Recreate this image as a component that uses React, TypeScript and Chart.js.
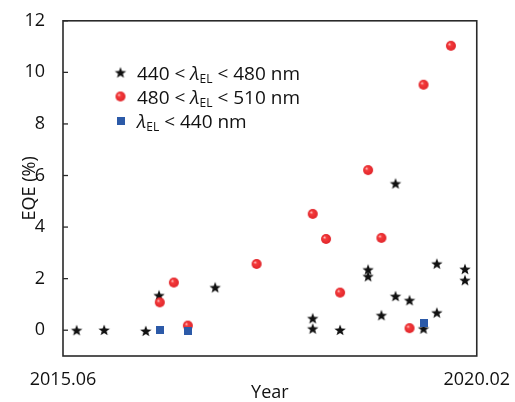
import { useEffect, useRef } from 'react';
import { Chart, registerables } from 'chart.js';
Chart.register(...registerables);

// ---- data (x: decimal year, y: EQE %) ----
const starYears = [2015.571, 2015.881, 2016.35, 2016.5, 2017.133, 2018.233, 2018.233, 2018.542, 2018.858, 2018.858, 2019.008, 2019.167, 2019.167, 2019.325, 2019.483, 2019.633, 2019.633, 2019.95, 2019.95];
const starEQE = [0, 0.01, -0.03, 1.35, 1.66, 0.46, 0.06, 0.01, 2.35, 2.09, 0.58, 5.69, 1.32, 1.16, 0.06, 2.58, 0.68, 2.37, 1.94];

const redYears = [2016.508, 2016.667, 2016.825, 2017.6, 2018.233, 2018.383, 2018.542, 2018.858, 2019.008, 2019.325, 2019.483, 2019.792];
const redEQE = [1.08, 1.85, 0.18, 2.57, 4.51, 3.54, 1.46, 6.21, 3.58, 0.08, 9.52, 11.03];

const blueYears = [2016.508, 2016.825, 2019.483];
const blueEQE = [0, -0.02, 0.27];

const seriesLabels = ['440 < λEL < 480 nm', '480 < λEL < 510 nm', 'λEL < 440 nm'];
const xTickValues = [2015.4167, 2020.0833];
const xTickLabels = ['2015.06', '2020.02'];
const yTickValues = [0, 2, 4, 6, 8, 10, 12];

const FONT = '"Open Sans", "Noto Sans", sans-serif';

function makeStar(r: number) {
  const s = Math.ceil(2 * r + 2);
  const c = document.createElement('canvas');
  c.width = s; c.height = s;
  const ctx = c.getContext('2d')!;
  const cx = s / 2, cy = s / 2 + 0.5;
  ctx.beginPath();
  for (let i = 0; i < 10; i++) {
    const rad = i % 2 === 0 ? r : r * 0.42;
    const a = -Math.PI / 2 + (i * Math.PI) / 5;
    const x = cx + rad * Math.cos(a), y = cy + rad * Math.sin(a);
    if (i === 0) ctx.moveTo(x, y); else ctx.lineTo(x, y);
  }
  ctx.closePath();
  ctx.fillStyle = '#111';
  ctx.fill();
  return c;
}

function makeBall(r: number) {
  const s = Math.ceil(2 * r + 2);
  const c = document.createElement('canvas');
  c.width = s; c.height = s;
  const ctx = c.getContext('2d')!;
  const cx = s / 2, cy = s / 2;
  const g = ctx.createRadialGradient(cx - r * 0.35, cy - r * 0.35, r * 0.05, cx, cy, r);
  g.addColorStop(0, '#ffc4c4');
  g.addColorStop(0.3, '#f53c3c');
  g.addColorStop(1, '#e0242a');
  ctx.beginPath();
  ctx.arc(cx, cy, r, 0, Math.PI * 2);
  ctx.fillStyle = g;
  ctx.fill();
  return c;
}

function makeSquare(w: number) {
  const c = document.createElement('canvas');
  c.width = w; c.height = w;
  const ctx = c.getContext('2d')!;
  ctx.fillStyle = '#2c5aa8';
  ctx.fillRect(0, 0, w, w);
  return c;
}

export default function App() {
  const ref = useRef<HTMLCanvasElement>(null);
  useEffect(() => {
    document.body.style.margin = '0';
    const star = makeStar(6);
    const ball = makeBall(5);
    const square = makeSquare(8);
    const markers = [star, ball, square];

    const framePlugin = {
      id: 'frame',
      afterDraw(chart: any) {
        const { ctx, chartArea } = chart;
        const { left, right, top, bottom } = chartArea;
        const yScale = chart.scales.y;
        ctx.save();
        ctx.strokeStyle = '#2a2a2a';
        ctx.lineWidth = 1.6;
        ctx.strokeRect(left, top, right - left, bottom - top);
        ctx.lineWidth = 1.3;
        yTickValues.forEach((v) => {
          const y = yScale.getPixelForValue(v);
          ctx.beginPath();
          ctx.moveTo(left, y);
          ctx.lineTo(left + 5, y);
          ctx.stroke();
        });
        // legend
        const rowsY = [72.5, 96.5, 120.5];
        const mx = 120.5;
        const tx = 137;
        chart.data.datasets.forEach((ds: any, i: number) => {
          const img = markers[i];
          const y = rowsY[i];
          ctx.drawImage(img, mx - img.width / 2, y - img.height / 2);
          const label: string = ds.label;
          const idx = label.indexOf('λEL');
          const pre = label.slice(0, idx);
          const post = label.slice(idx + 3);
          let x = tx;
          ctx.fillStyle = '#111';
          ctx.textBaseline = 'alphabetic';
          const base = y + 7;
          ctx.font = `19px ${FONT}`;
          ctx.fillText(pre, x, base);
          x += ctx.measureText(pre).width;
          ctx.font = `italic 19px ${FONT}`;
          ctx.fillText('λ', x, base);
          x += ctx.measureText('λ').width;
          ctx.font = `12px ${FONT}`;
          ctx.fillText('EL', x, base + 3.5);
          x += ctx.measureText('EL').width;
          ctx.font = `19px ${FONT}`;
          ctx.fillText(post, x, base);
        });
        ctx.restore();
      },
    };

    const chart = new Chart(ref.current!, {
      type: 'scatter',
      data: {
        datasets: [
          {
            label: seriesLabels[0],
            data: starYears.map((x, i) => ({ x, y: starEQE[i] })),
            pointStyle: star as any,
            order: 3,
          },
          {
            label: seriesLabels[1],
            data: redYears.map((x, i) => ({ x, y: redEQE[i] })),
            pointStyle: ball as any,
            order: 2,
          },
          {
            label: seriesLabels[2],
            data: blueYears.map((x, i) => ({ x, y: blueEQE[i] })),
            pointStyle: square as any,
            order: 1,
          },
        ],
      },
      options: {
        animation: false,
        responsive: false,
        maintainAspectRatio: false,
        layout: { padding: { top: 19, right: 37, left: 0, bottom: 0 } },
        plugins: { legend: { display: false }, tooltip: { enabled: false } },
        scales: {
          x: {
            type: 'linear',
            min: xTickValues[0],
            max: xTickValues[1],
            grid: { display: false },
            border: { display: false },
            afterBuildTicks: (scale: any) => {
              scale.ticks = xTickValues.map((v) => ({ value: v }));
            },
            afterFit: (scale: any) => {
              scale.height = 46;
            },
            ticks: {
              autoSkip: false,
              maxRotation: 0,
              padding: 5,
              color: '#111',
              font: { family: FONT, size: 18, lineHeight: 1.2 },
              callback: (_v: any, i: number) => xTickLabels[i],
            },
            title: {
              display: true,
              text: 'Year',
              color: '#111',
              padding: 0,
              font: { family: FONT, size: 18, lineHeight: 1 },
            },
          },
          y: {
            min: -1,
            max: 12,
            grid: { display: false },
            border: { display: false },
            afterBuildTicks: (scale: any) => {
              scale.ticks = yTickValues.map((v) => ({ value: v }));
            },
            afterFit: (scale: any) => {
              scale.width = 63;
            },
            ticks: {
              padding: 10,
              color: '#111',
              font: { family: FONT, size: 18, lineHeight: 1.2 },
            },
            title: {
              display: true,
              text: 'EQE (%)',
              color: '#111',
              padding: { top: 21, bottom: 0 },
              font: { family: FONT, size: 18, lineHeight: 1 },
            },
          },
        },
      },
      plugins: [framePlugin],
    });
    return () => chart.destroy();
  }, []);
  return (
    <div style={{ width: 515, height: 402 }}>
      <canvas ref={ref} width={515} height={402} style={{ display: 'block' }} />
    </div>
  );
}
